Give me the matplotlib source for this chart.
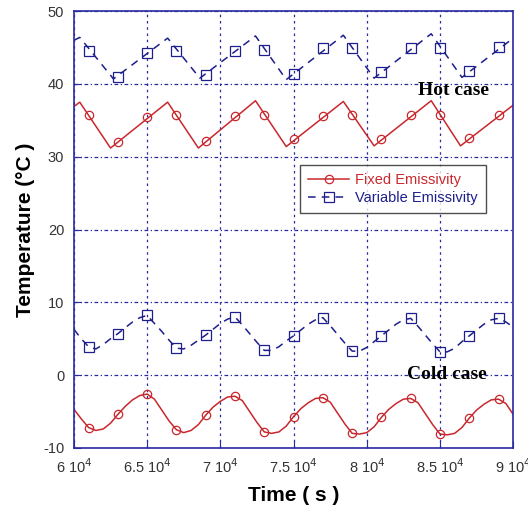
import matplotlib
matplotlib.use("Agg")
import matplotlib.pyplot as plt
from matplotlib.ticker import FixedLocator

# ---- data ----
# hot case, fixed emissivity (sawtooth vertices)
hot_fixed_t = [60000, 60400, 62500, 66400, 68500, 72400, 74500, 78400, 80500, 84400, 86400, 90000]
hot_fixed_T = [36.9, 37.5, 31.2, 37.5, 31.2, 37.7, 31.4, 37.6, 31.5, 37.7, 31.5, 37.1]

# hot case, variable emissivity
hot_var_t = [60000, 60400, 62700, 66400, 68600, 72400, 74500, 78400, 80500, 84400, 86500, 90000]
hot_var_T = [46.0, 46.4, 40.7, 46.3, 40.8, 46.6, 40.6, 46.7, 40.8, 46.9, 40.9, 46.3]

# cold case, sampled every 500 s
cold_t = [60000 + 500 * i for i in range(61)]
cold_fixed_T = [
    -4.7, -6.0, -7.2, -7.6, -7.4, -6.6, -5.4, -4.3, -3.4, -2.8, -2.6,
    -3.3, -4.8, -6.3, -7.5, -7.9, -7.6, -6.8, -5.5, -4.4, -3.6, -3.0,
    -2.9, -3.5, -5.0, -6.5, -7.8, -8.0, -7.8, -7.0, -5.7, -4.6, -3.8,
    -3.2, -3.1, -3.7, -5.2, -6.7, -8.0, -8.1, -7.9, -7.1, -5.8, -4.7,
    -3.9, -3.3, -3.2, -3.8, -5.3, -6.8, -8.1, -8.2, -8.0, -7.2, -5.9,
    -4.8, -4.0, -3.4, -3.3, -3.9, -5.4,
]
cold_var_T = [
    6.3, 5.0, 3.9, 3.6, 4.2, 5.0, 5.7, 6.5, 7.3, 7.9, 8.2,
    7.1, 6.0, 4.8, 3.7, 3.6, 4.1, 4.8, 5.5, 6.3, 7.1, 7.7,
    8.0, 6.9, 5.7, 4.5, 3.4, 3.4, 3.9, 4.7, 5.4, 6.2, 7.0,
    7.6, 7.9, 6.8, 5.6, 4.4, 3.3, 3.3, 3.8, 4.6, 5.4, 6.2,
    7.0, 7.6, 7.8, 6.7, 5.5, 4.3, 3.2, 3.2, 3.7, 4.6, 5.4,
    6.2, 7.0, 7.6, 7.8, 7.3, 6.6,
]

# marker positions (every 2000 s)
marker_t = [61000 + 2000 * i for i in range(15)]
hot_fixed_mk = [35.7, 32.0, 35.4, 35.7, 32.1, 35.6, 35.7, 32.4, 35.6, 35.7, 32.5, 35.7, 35.7, 32.6, 35.7]
hot_var_mk = [44.5, 41.0, 44.3, 44.6, 41.3, 44.5, 44.7, 41.4, 44.9, 44.9, 41.7, 44.9, 44.9, 41.8, 45.1]

x_ticks = [60000, 65000, 70000, 75000, 80000, 85000, 90000]
x_ticklabels = ["6 10$^4$", "6.5 10$^4$", "7 10$^4$", "7.5 10$^4$", "8 10$^4$", "8.5 10$^4$", "9 10$^4$"]
y_ticks = [-10, 0, 10, 20, 30, 40, 50]

RED = "#c8282d"
BLUE = "#1e1e8c"
NAVY = "#2a2aa0"

plt.rcParams["font.family"] = ["Liberation Sans", "DejaVu Sans"]
plt.rcParams["axes.unicode_minus"] = False

fig = plt.figure(figsize=(5.28, 5.09), dpi=100)
ax = fig.add_axes([0.140, 0.120, 0.832, 0.858])

red_kw = dict(color=RED, lw=1.1)
blue_kw = dict(color=BLUE, lw=1.1, dashes=(5, 4))
circ = dict(ls="none", marker="o", ms=6, mfc="none", mec=RED, mew=0.9)
sq = dict(ls="none", marker="s", ms=7, mfc="none", mec=BLUE, mew=0.9)

ax.plot(hot_fixed_t, hot_fixed_T, **red_kw)
ax.plot(marker_t, hot_fixed_mk, **circ)
ax.plot(hot_var_t, hot_var_T, **blue_kw)
ax.plot(marker_t, hot_var_mk, **sq)

ax.plot(cold_t, cold_fixed_T, markevery=slice(2, None, 4), marker="o", ms=6,
        mfc="none", mec=RED, mew=0.9, **red_kw)
ax.plot(cold_t, cold_var_T, markevery=slice(2, None, 4), marker="s", ms=7,
        mfc="none", mec=BLUE, mew=0.9, **blue_kw)

# legend proxies
h1, = ax.plot([], [], marker="o", ms=6, mfc="none", mec=RED, mew=0.9, **red_kw)
h2, = ax.plot([], [], marker="s", ms=7, mfc="none", mec=BLUE, mew=0.9, **blue_kw)
leg = ax.legend([h1, h2], ["Fixed Emissivity", "Variable Emissivity"],
                loc="upper left", bbox_to_anchor=(0.499, 0.665), fontsize=10.5,
                frameon=True, fancybox=False, edgecolor="#222222",
                handlelength=2.8, handletextpad=0.4, borderpad=0.55,
                labelspacing=0.3)
leg.get_frame().set_linewidth(1.0)
leg.get_texts()[0].set_color(RED)
leg.get_texts()[1].set_color(BLUE)

ax.text(85900, 39.1, "Hot case", family=["Liberation Serif", "DejaVu Serif"],
        fontweight="bold", fontsize=14, ha="center", va="center")
ax.text(85500, 0.1, "Cold case", family=["Liberation Serif", "DejaVu Serif"],
        fontweight="bold", fontsize=14, ha="center", va="center")

ax.set_xlim(60000, 90000)
ax.set_ylim(-10, 50)
ax.xaxis.set_major_locator(FixedLocator(x_ticks))
ax.set_xticklabels(x_ticklabels)
ax.set_yticks(y_ticks)

ax.xaxis.grid(True, color=NAVY, ls=(0, (2, 3)), lw=0.9)
ax.yaxis.grid(True, color=NAVY, ls=(0, (3, 2, 1, 2)), lw=0.9)
ax.set_axisbelow(True)

for s in ax.spines.values():
    s.set_color(NAVY)
    s.set_linewidth(1.2)

ax.tick_params(axis="both", direction="in", length=5, color=NAVY,
               labelsize=10.5, labelcolor="#333333", pad=7)

ax.set_xlabel("Time ( s )", fontsize=15, fontweight="bold", labelpad=7)
ax.set_ylabel("Temperature (°C )", fontsize=15, fontweight="bold", labelpad=6)

fig.savefig("out.png", dpi=100)
